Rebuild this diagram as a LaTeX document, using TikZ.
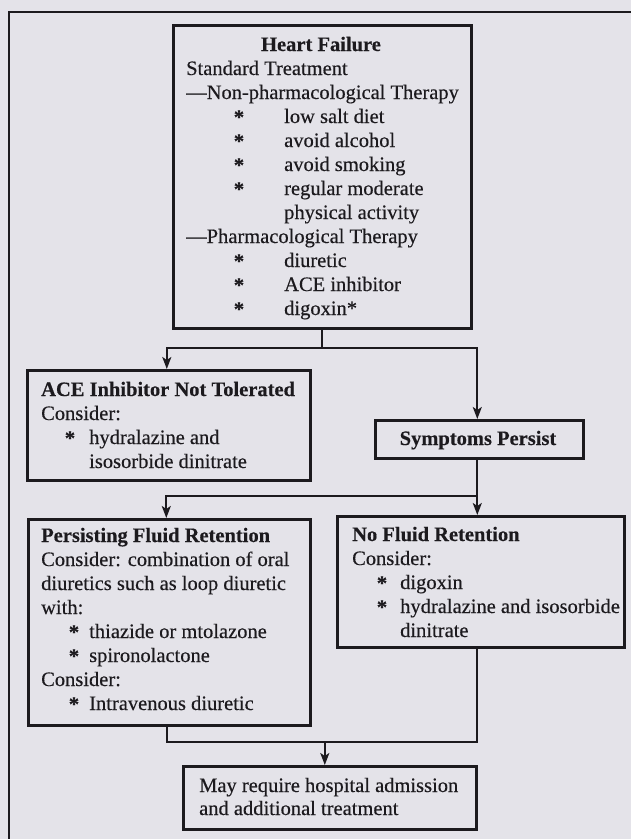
\documentclass[tikz,border=0pt]{standalone}
\usepackage{fontspec}
\setmainfont{Liberation Serif}[FakeBold=0.35]
\usetikzlibrary{arrows.meta,calc}
\definecolor{paper}{RGB}{228,227,233}
\definecolor{ink}{RGB}{28,26,30}
\newcommand\myfs{\fontsize{20.5}{24}\selectfont}
\begin{document}
\begin{tikzpicture}[x=1pt,y=-1pt,
  box/.style={draw=ink, line width=2.6pt, inner sep=0pt, anchor=north west},
  conn/.style={draw=ink, line width=1.9pt},
  arr/.style={conn, -{Stealth[length=12pt,width=9pt,inset=3pt]}},
  t/.style={anchor=base west, inner sep=0pt, font=\myfs, text=ink},
  tb/.style={t, font=\myfs\bfseries},
  tc/.style={anchor=base, inner sep=0pt, font=\myfs\bfseries, text=ink},
  ast/.style={anchor=base, inner sep=0pt, font=\myfs\bfseries, text=ink}]
\fill[paper] (0,0) rectangle (631,839);
\useasboundingbox (0,0) rectangle (631,839);
% outer frame
\coordinate (fa) at (9,839);
\coordinate (fb) at (9,12);
\coordinate (fc) at (631,12);
\draw[ink, line width=2.4pt] (fa) -- (fb) -- (fc);
% boxes
\node[box, minimum width=298pt, minimum height=303pt] (hf) at (172,24) {};
\node[box, minimum width=283pt, minimum height=110pt] (ace) at (26,369) {};
\node[box, minimum width=208pt, minimum height=38pt] (sym) at (374,419) {};
\node[box, minimum width=282pt, minimum height=206pt] (pfr) at (27,518) {};
\node[box, minimum width=287pt, minimum height=131pt] (nfr) at (336,515) {};
\node[box, minimum width=293pt, minimum height=63pt] (fin) at (182,765) {};
% Heart failure text
\node[tc] (h0) at (321,51) {Heart Failure};
\node[t] (h1) at (186,75) {Standard Treatment};
\node[t] (h2) at (186,99) {—Non-pharmacological Therapy};
\node[ast] (a1) at (239,124) {*};
\node[t] (h3) at (284,123) {low salt diet};
\node[ast] (a2) at (239,148) {*};
\node[t] (h4) at (284,147) {avoid alcohol};
\node[ast] (a3) at (239,172) {*};
\node[t] (h5) at (284,171) {avoid smoking};
\node[ast] (a4) at (239,196) {*};
\node[t] (h6) at (284,195) {regular moderate};
\node[t] (h7) at (284,219) {physical activity};
\node[t] (h8) at (186,243) {—Pharmacological Therapy};
\node[ast] (a5) at (239,268) {*};
\node[t] (h9) at (284,267) {diuretic};
\node[ast] (a6) at (239,292) {*};
\node[t] (h10) at (284,291) {ACE inhibitor};
\node[ast] (a7) at (239,316) {*};
\node[t] (h11) at (284,315) {digoxin*};
% ACE box text
\node[tb] (c0) at (41,396) {ACE Inhibitor Not Tolerated};
\node[t] (c1) at (41,420) {Consider:};
\node[ast] (c2) at (70,445) {*};
\node[t] (c3) at (89,444) {hydralazine and};
\node[t] (c4) at (89,468) {isosorbide dinitrate};
% Symptoms
\node[tc] (s0) at (478,445) {Symptoms Persist};
% Persisting fluid retention text
\node[tb] (p0) at (41,542) {Persisting Fluid Retention};
\node[t] (p1) at (41,566) {Consider: combination of oral};
\node[t] (p2) at (41,590) {diuretics such as loop diuretic};
\node[t] (p3) at (41,614) {with:};
\node[ast] (p4) at (74,639) {*};
\node[t] (p5) at (89,638) {thiazide or mtolazone};
\node[ast] (p6) at (74,663) {*};
\node[t] (p7) at (89,662) {spironolactone};
\node[t] (p8) at (41,686) {Consider:};
\node[ast] (p9) at (74,711) {*};
\node[t] (p10) at (89,710) {Intravenous diuretic};
% No fluid retention text
\node[tb] (n0) at (352,541) {No Fluid Retention};
\node[t] (n1) at (352,565) {Consider:};
\node[ast] (n2) at (382,590) {*};
\node[t] (n3) at (400,589) {digoxin};
\node[ast] (n4) at (382,614) {*};
\node[t] (n5) at (400,613) {hydralazine and isosorbide};
\node[t] (n6) at (400,637) {dinitrate};
% final text
\node[t] (f0) at (199,792) {May require hospital admission};
\node[t] (f1) at (199,815) {and additional treatment};
% connectors
\coordinate (j1) at ($(hf.south)+(0,18)$);
\draw[conn] (hf.south) -- (j1);
\draw[arr] (j1) -| ($(ace.north)+(-2,0)$);
\draw[arr] (j1) -| ($(sym.north)+(-2,0)$);
\coordinate (j2) at ($(sym.south)+(-2,36)$);
\draw[conn] ($(sym.south)+(-2,0)$) -- (j2);
\draw[arr] (j2) -| ($(pfr.north)+(-3,0)$);
\draw[arr] (j2) -- (j2 |- nfr.north);
\coordinate (j3) at ($(fin.north)+(-5,-23)$);
\draw[conn] ($(pfr.south)+(-2,0)$) |- (j3) -| (j2 |- nfr.south);
\draw[arr] (j3) -- (j3 |- fin.north);
\end{tikzpicture}
\end{document}
